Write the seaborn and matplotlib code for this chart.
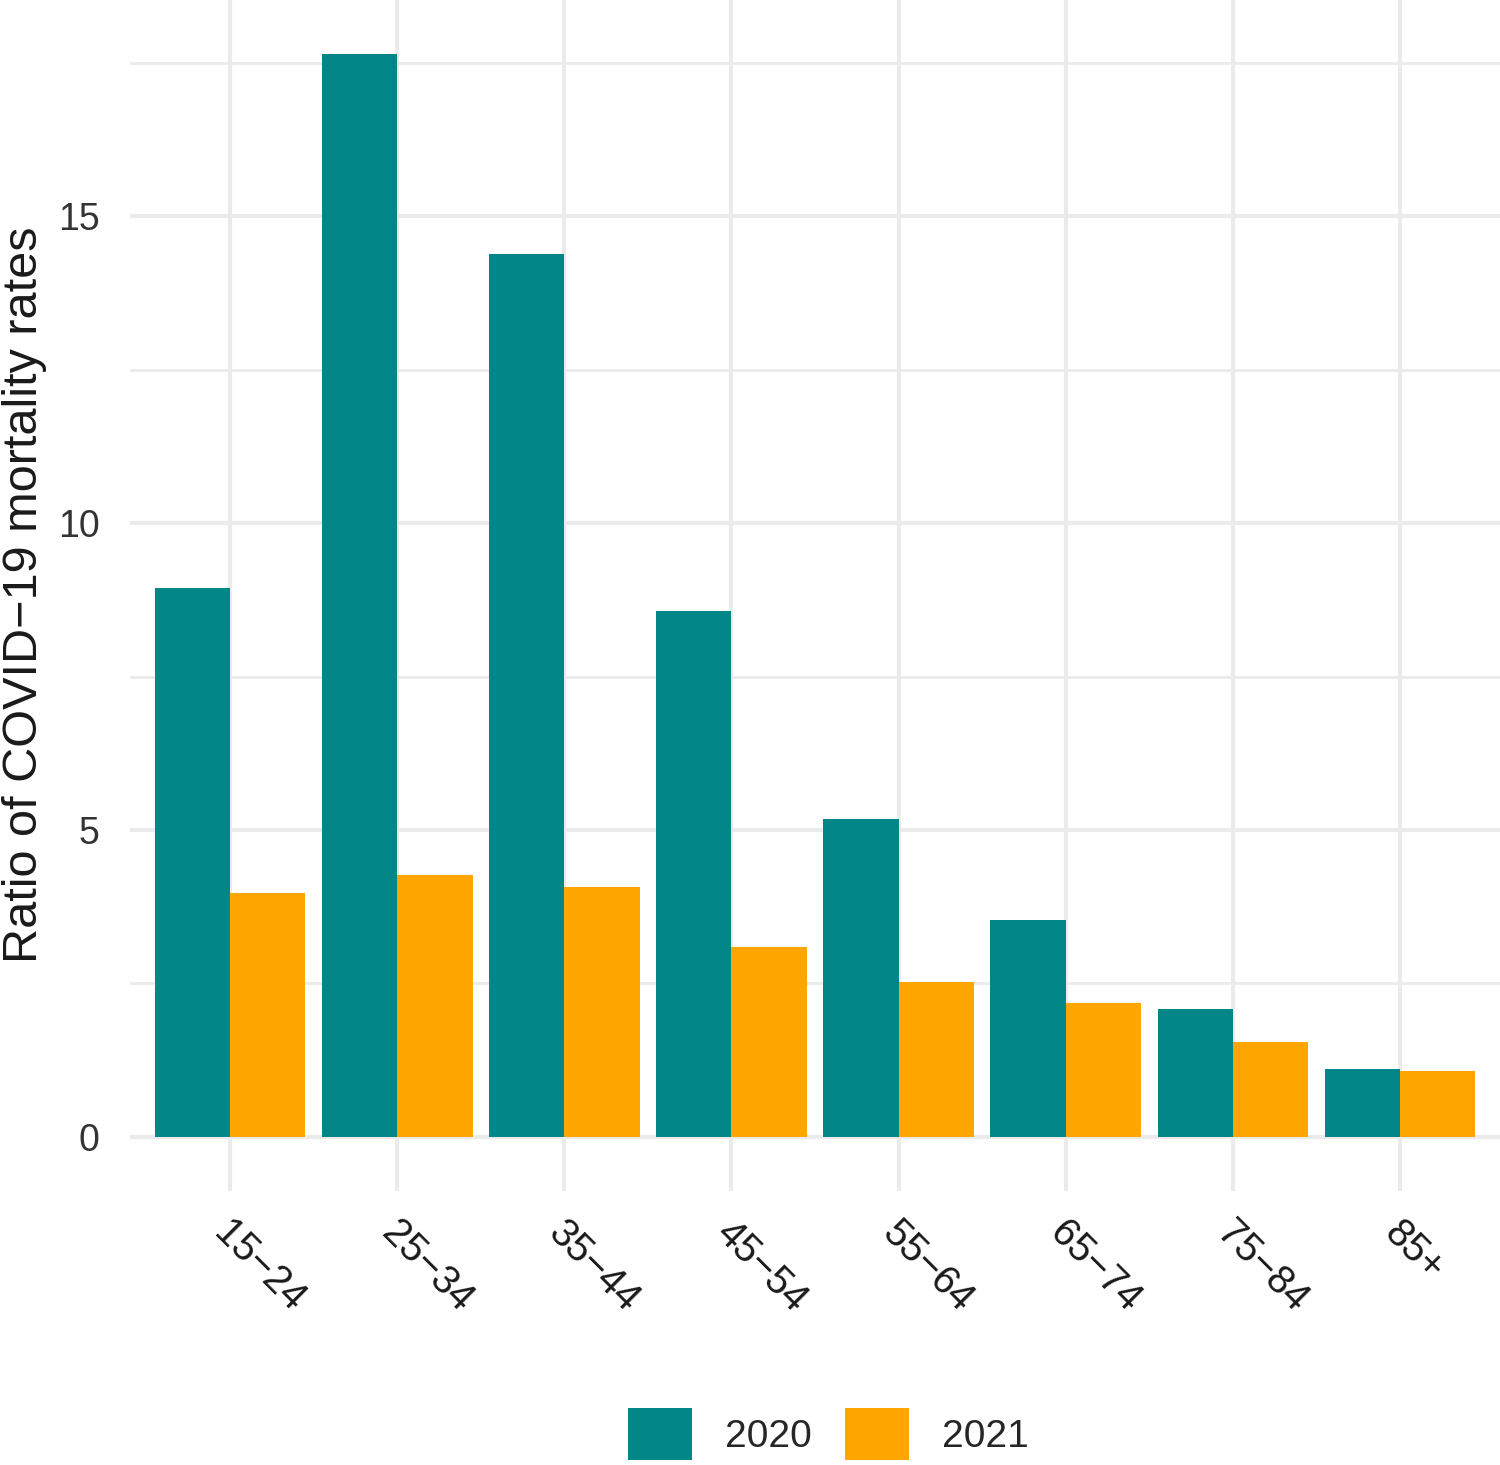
import pandas as pd
import matplotlib
matplotlib.use("Agg")
import matplotlib.pyplot as plt
import matplotlib.transforms as mtransforms
from matplotlib.patches import Patch
import seaborn as sns

# Data
age_groups = ["15−24", "25−34", "35−44", "45−54", "55−64", "65−74", "75−84", "85+"]
ratio_2020 = [8.94, 17.64, 14.38, 8.57, 5.18, 3.53, 2.08, 1.11]
ratio_2021 = [3.97, 4.27, 4.07, 3.09, 2.52, 2.18, 1.55, 1.07]
years = ["2020", "2021"]
colors = ["#028688", "#FFA500"]

df = pd.DataFrame({
    "age": age_groups * 2,
    "year": [years[0]] * len(age_groups) + [years[1]] * len(age_groups),
    "ratio": ratio_2020 + ratio_2021,
})

sns.set_theme(style="white")
plt.rcParams["font.family"] = ["Liberation Sans", "DejaVu Sans"]

fig = plt.figure(figsize=(15, 14.65), dpi=100)
ax = fig.add_axes([130 / 1500, 1 - 1191 / 1465, 1 - 130 / 1500, 1191 / 1465])

sns.barplot(data=df, x="age", y="ratio", hue="year", palette=colors,
            width=0.9, saturation=1, linewidth=0, ax=ax, legend=False, zorder=3)

ax.set_xlim(-0.6, 7.6)
ax.set_ylim(-0.88, 18.52)

# grid like ggplot theme_minimal
ax.set_yticks([0, 5, 10, 15])
ax.set_yticks([2.5, 7.5, 12.5, 17.5], minor=True)
ax.grid(axis="y", which="major", color="#EBEBEB", linewidth=3, zorder=0)
ax.grid(axis="y", which="minor", color="#EBEBEB", linewidth=2, zorder=0)
ax.grid(axis="x", which="major", color="#EBEBEB", linewidth=3, zorder=0)
ax.set_axisbelow(True)
for s in ax.spines.values():
    s.set_visible(False)

ax.tick_params(axis="both", which="both", length=0)
ax.tick_params(axis="y", labelsize=27, pad=22, labelcolor="#333333")
ax.tick_params(axis="x", labelsize=28.5, pad=26, labelcolor="#1a1a1a")
shift = mtransforms.ScaledTranslation(-0.1, 0, fig.dpi_scale_trans)
for lab in ax.get_xticklabels():
    lab.set_rotation(-45)
    lab.set_ha("left")
    lab.set_va("center")
    lab.set_rotation_mode("anchor")
    lab.set_transform(lab.get_transform() + shift)

ax.set_xlabel("")
ax.set_ylabel("")
fig.text(2 / 1500, 1 - 595 / 1465, "Ratio of COVID−19 mortality rates", rotation=90,
         ha="left", va="center", fontsize=35, color="#1a1a1a")

handles = [Patch(facecolor=c, edgecolor="none") for c in colors]
fig.legend(handles, years, loc="center", bbox_to_anchor=(0.552, 1 - 1434 / 1465),
           ncol=2, frameon=False, fontsize=28, handlelength=1.65, handleheight=1.65,
           handletextpad=0.85, columnspacing=0.85, borderpad=0)

fig.savefig("out.png", dpi=100, facecolor="white")
